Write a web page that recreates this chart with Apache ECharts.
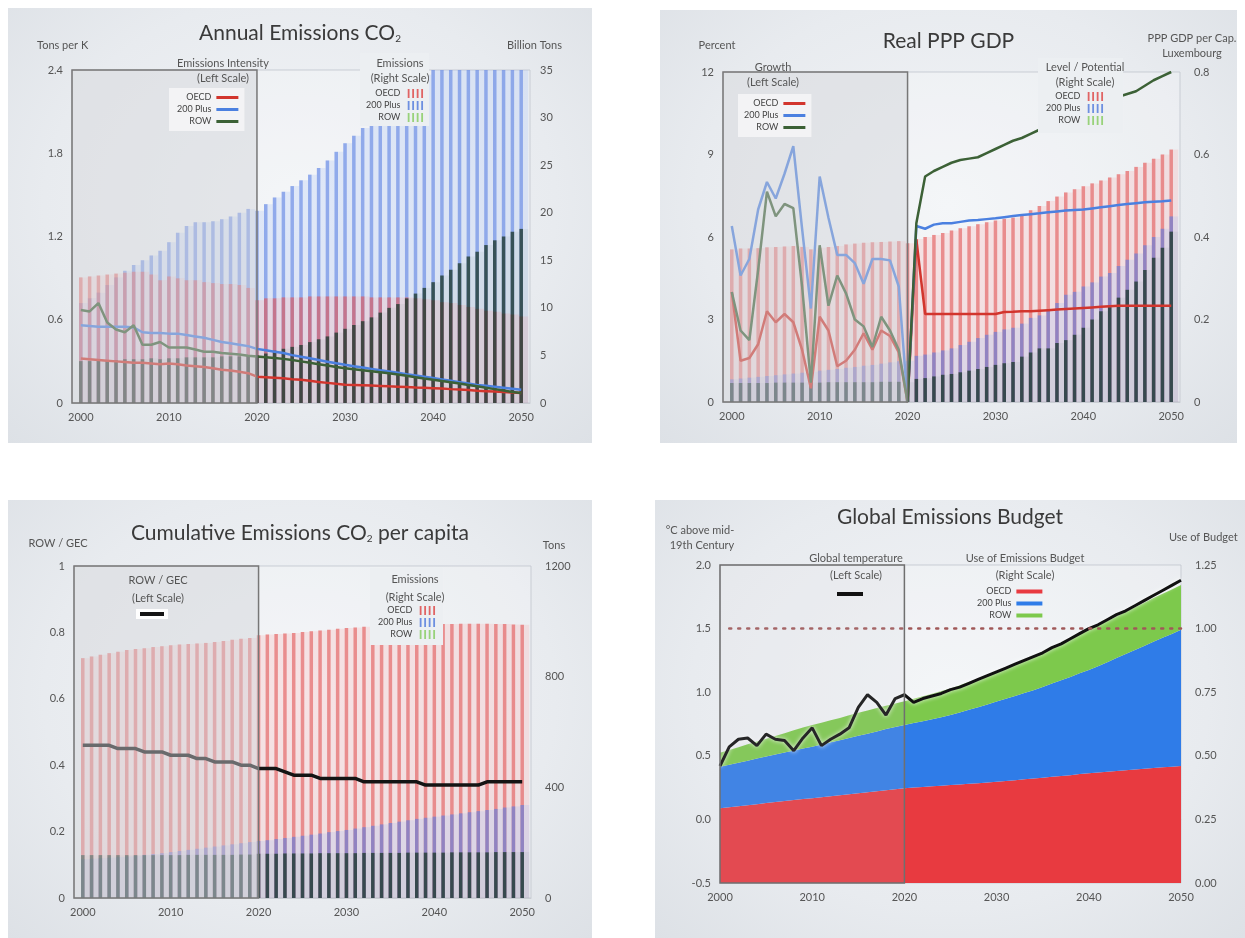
<!DOCTYPE html>
<html>
<head>
<meta charset="utf-8">
<script src="https://cdn.jsdelivr.net/npm/echarts@6/dist/echarts.min.js"></script>
<style>
  html, body { margin: 0; padding: 0; background: #ffffff; width: 1245px; height: 938px; overflow: hidden; }
  .panel { position: absolute; background: radial-gradient(ellipse at 50% 45%, #f2f4f7 0%, #e8ebef 62%, #dde1e6 100%); }
</style>
</head>
<body>
<div id="p1" class="panel" style="left:8px;top:8px;width:584px;height:435px"></div>
<div id="p2" class="panel" style="left:660px;top:10px;width:577px;height:433px"></div>
<div id="p3" class="panel" style="left:8px;top:500px;width:584px;height:438px"></div>
<div id="p4" class="panel" style="left:655px;top:500px;width:590px;height:438px"></div>
<script>
// ---------- shared categories ----------
const years = [];
for (let y = 2000; y <= 2050; y++) years.push(y);

// ---------- Annual Emissions CO2 ----------
// emissions, billion tons (right scale)
const p1OecdEm = [13.2, 13.3, 13.4, 13.5, 13.6, 13.7, 13.8, 13.8, 13.5, 12.9,
  13.3, 13.1, 12.9, 12.9, 12.7, 12.6, 12.5, 12.5, 12.4, 12.1,
  10.8, 11.0, 11.0, 11.1, 11.1, 11.1, 11.2, 11.2, 11.2, 11.2,
  11.2, 11.2, 11.2, 11.1, 11.1, 11.1, 11.1, 11.1, 11.0, 10.9,
  10.8, 10.6, 10.5, 10.3, 10.1, 9.9, 9.7, 9.6, 9.4, 9.3, 9.1];
const p1PlusEm = [10.5, 11.0, 11.6, 12.4, 13.2, 13.9, 14.5, 15.0, 15.5, 16.0,
  16.9, 17.9, 18.6, 19.0, 19.0, 19.1, 19.3, 19.6, 20.0, 20.4,
  20.2, 20.9, 21.6, 22.2, 22.8, 23.4, 24.0, 24.7, 25.5, 26.4,
  27.3, 28.1, 28.9, 29.7, 30.5, 31.3, 32.1, 32.9, 33.7, 34.5,
  35.3, 36.0, 36.7, 37.4, 38.1, 38.8, 39.5, 40.2, 40.9, 41.6, 42.3];
const p1RowEm = [4.4, 4.4, 4.5, 4.5, 4.5, 4.6, 4.6, 4.6, 4.7, 4.6,
  4.7, 4.7, 4.8, 4.8, 4.8, 4.8, 4.9, 4.9, 4.9, 5.0,
  5.0, 5.2, 5.5, 5.7, 5.9, 6.1, 6.4, 6.7, 7.0, 7.4,
  7.8, 8.2, 8.6, 9.0, 9.5, 10.0, 10.4, 11.0, 11.5, 12.1,
  12.7, 13.4, 14.0, 14.7, 15.4, 15.9, 16.6, 17.1, 17.5, 18.0, 18.3];
// emissions intensity, tons per K (left scale)
const p1OecdInt = [0.32, 0.315, 0.31, 0.305, 0.30, 0.295, 0.29, 0.29, 0.285, 0.28,
  0.285, 0.28, 0.27, 0.265, 0.26, 0.25, 0.24, 0.235, 0.225, 0.215,
  0.19, 0.186, 0.182, 0.178, 0.172, 0.167, 0.16, 0.152, 0.145, 0.138,
  0.132, 0.13, 0.128, 0.126, 0.123, 0.12, 0.118, 0.115, 0.112, 0.11,
  0.107, 0.104, 0.1, 0.097, 0.093, 0.088, 0.085, 0.082, 0.079, 0.075, 0.072];
const p1PlusInt = [0.56, 0.555, 0.55, 0.55, 0.55, 0.55, 0.545, 0.51, 0.505, 0.505,
  0.5, 0.5, 0.49, 0.48, 0.47, 0.455, 0.44, 0.43, 0.42, 0.41,
  0.39, 0.38, 0.37, 0.36, 0.345, 0.334, 0.322, 0.31, 0.298, 0.286,
  0.275, 0.265, 0.256, 0.246, 0.236, 0.227, 0.218, 0.208, 0.199, 0.19,
  0.18, 0.17, 0.16, 0.15, 0.14, 0.13, 0.124, 0.117, 0.11, 0.103, 0.095];
const p1RowInt = [0.67, 0.66, 0.72, 0.58, 0.53, 0.51, 0.56, 0.42, 0.42, 0.44,
  0.40, 0.40, 0.40, 0.385, 0.37, 0.37, 0.36, 0.355, 0.35, 0.34,
  0.335, 0.33, 0.325, 0.318, 0.31, 0.30, 0.29, 0.28, 0.27, 0.26,
  0.25, 0.243, 0.236, 0.229, 0.222, 0.215, 0.206, 0.196, 0.186, 0.176,
  0.167, 0.158, 0.149, 0.14, 0.13, 0.12, 0.11, 0.1, 0.09, 0.08, 0.072];

// ---------- Real PPP GDP ----------
// growth, percent (left scale)
const p2OecdGr = [4.0, 1.5, 1.6, 2.1, 3.3, 2.9, 3.2, 2.9, 1.9, 0.5,
  3.1, 2.6, 1.3, 1.5, 1.9, 2.5, 1.9, 2.6, 2.4, 1.8,
  0.0, 5.9, 3.2, 3.2, 3.2, 3.2, 3.2, 3.2, 3.2, 3.2,
  3.2, 3.27, 3.28, 3.3, 3.3, 3.32, 3.34, 3.36, 3.38, 3.4,
  3.42, 3.44, 3.46, 3.48, 3.5, 3.5, 3.5, 3.5, 3.5, 3.5, 3.5];
const p2PlusGr = [6.4, 4.6, 5.2, 7.0, 8.0, 7.4, 8.3, 9.3, 6.3, 3.4,
  8.2, 6.7, 5.35, 5.35, 5.05, 4.3, 5.2, 5.2, 5.15, 4.2,
  0.0, 6.4, 6.3, 6.45, 6.5, 6.5, 6.55, 6.6, 6.62, 6.65,
  6.68, 6.72, 6.76, 6.8, 6.83, 6.86, 6.9, 6.93, 6.96, 6.98,
  7.0, 7.04, 7.08, 7.12, 7.16, 7.2, 7.23, 7.26, 7.28, 7.3, 7.33];
const p2RowGr = [4.0, 2.6, 2.25, 4.8, 7.65, 6.75, 7.2, 7.05, 4.2, 0.7,
  5.7, 3.5, 4.6, 3.95, 3.0, 2.75, 2.0, 3.1, 2.6, 1.9,
  0.0, 6.5, 8.2, 8.4, 8.55, 8.7, 8.8, 8.85, 8.9, 9.05,
  9.2, 9.35, 9.5, 9.6, 9.75, 9.9, 10.05, 10.2, 10.35, 10.5,
  10.6, 10.75, 10.9, 11.0, 11.1, 11.2, 11.3, 11.5, 11.7, 11.85, 12.0];
// level / potential, share of Luxembourg per-capita GDP (right scale)
const p2OecdLv = [0.37, 0.372, 0.372, 0.373, 0.375, 0.376, 0.377, 0.378, 0.376, 0.37,
  0.374, 0.376, 0.378, 0.382, 0.384, 0.386, 0.387, 0.388, 0.389, 0.39,
  0.385, 0.395, 0.40, 0.405, 0.41, 0.416, 0.421, 0.426, 0.431, 0.436,
  0.44, 0.444, 0.447, 0.455, 0.465, 0.475, 0.487, 0.498, 0.508, 0.516,
  0.523, 0.53, 0.537, 0.544, 0.552, 0.56, 0.57, 0.58, 0.59, 0.6, 0.612];
const p2PlusLv = [0.055, 0.057, 0.059, 0.061, 0.063, 0.065, 0.067, 0.069, 0.071, 0.073,
  0.076, 0.078, 0.08, 0.083, 0.085, 0.088, 0.09, 0.093, 0.096, 0.099,
  0.10, 0.112, 0.115, 0.12, 0.125, 0.13, 0.138, 0.146, 0.155, 0.163,
  0.17, 0.176, 0.18, 0.19, 0.204, 0.21, 0.224, 0.24, 0.26, 0.267,
  0.28, 0.29, 0.304, 0.313, 0.33, 0.345, 0.36, 0.38, 0.40, 0.42, 0.45];
const p2RowLv = [0.046, 0.046, 0.046, 0.046, 0.046, 0.047, 0.047, 0.047, 0.047, 0.047,
  0.047, 0.048, 0.048, 0.048, 0.048, 0.048, 0.048, 0.049, 0.049, 0.049,
  0.048, 0.056, 0.058, 0.062, 0.066, 0.068, 0.072, 0.076, 0.08, 0.085,
  0.09, 0.094, 0.097, 0.11, 0.12, 0.13, 0.13, 0.143, 0.15, 0.163,
  0.18, 0.2, 0.22, 0.23, 0.253, 0.272, 0.292, 0.32, 0.35, 0.374, 0.413];

// ---------- Cumulative Emissions CO2 per capita ----------
// tons (right scale)
const p3OecdCum = [867, 873, 879, 885, 890, 896, 900, 903, 907, 910,
  914, 916, 918, 920, 922, 925, 929, 933, 937, 940,
  950, 952, 954, 956, 958, 961, 964, 967, 970, 973,
  976, 978, 980, 982, 984, 985, 986, 987, 988, 989,
  990, 990, 990, 991, 991, 991, 991, 990, 990, 989, 988];
const p3PlusCum = [140, 142, 144, 146, 148, 150, 153, 156, 159, 162,
  166, 170, 174, 178, 182, 186, 190, 194, 198, 202,
  206, 209, 213, 217, 221, 225, 229, 233, 238, 242,
  246, 251, 256, 261, 266, 271, 276, 281, 286, 290,
  294, 298, 302, 306, 310, 314, 318, 322, 327, 331, 336];
const p3RowCum = [155, 155, 155, 155, 155, 155, 155, 155, 155, 155,
  155, 155, 156, 156, 156, 156, 156, 156, 157, 157,
  160, 160, 160, 161, 161, 161, 161, 162, 162, 162,
  162, 162, 163, 163, 163, 163, 163, 164, 164, 164,
  164, 164, 165, 165, 165, 165, 165, 166, 166, 166, 166];
// ROW / GEC ratio (left scale)
const p3RowGec = [0.46, 0.46, 0.46, 0.46, 0.45, 0.45, 0.45, 0.44, 0.44, 0.44,
  0.43, 0.43, 0.43, 0.42, 0.42, 0.41, 0.41, 0.41, 0.40, 0.40,
  0.39, 0.39, 0.39, 0.38, 0.37, 0.37, 0.37, 0.36, 0.36, 0.36,
  0.36, 0.36, 0.35, 0.35, 0.35, 0.35, 0.35, 0.35, 0.35, 0.34,
  0.34, 0.34, 0.34, 0.34, 0.34, 0.34, 0.35, 0.35, 0.35, 0.35, 0.35];

// ---------- Global Emissions Budget ----------
// use of emissions budget (right scale, stacked)
const p4Oecd = [0.294, 0.298, 0.302, 0.306, 0.310, 0.314, 0.318, 0.322, 0.326, 0.330,
  0.333, 0.337, 0.341, 0.345, 0.349, 0.353, 0.357, 0.361, 0.365, 0.369,
  0.372, 0.375, 0.377, 0.380, 0.382, 0.385, 0.387, 0.390, 0.392, 0.395,
  0.398, 0.401, 0.404, 0.408, 0.411, 0.414, 0.418, 0.421, 0.424, 0.428,
  0.431, 0.434, 0.437, 0.440, 0.443, 0.446, 0.449, 0.452, 0.455, 0.457, 0.460];
const p4Plus = [0.163, 0.167, 0.171, 0.175, 0.179, 0.183, 0.187, 0.191, 0.195, 0.199,
  0.203, 0.207, 0.212, 0.216, 0.221, 0.226, 0.230, 0.235, 0.240, 0.244,
  0.249, 0.254, 0.259, 0.264, 0.270, 0.275, 0.283, 0.291, 0.299, 0.307,
  0.315, 0.323, 0.331, 0.339, 0.347, 0.356, 0.366, 0.376, 0.386, 0.396,
  0.406, 0.418, 0.431, 0.444, 0.457, 0.470, 0.483, 0.496, 0.509, 0.522, 0.535];
const p4Row = [0.055, 0.058, 0.061, 0.064, 0.067, 0.070, 0.073, 0.076, 0.079, 0.082,
  0.085, 0.086, 0.087, 0.088, 0.089, 0.090, 0.091, 0.092, 0.092, 0.093,
  0.093, 0.095, 0.098, 0.100, 0.103, 0.105, 0.107, 0.110, 0.112, 0.115,
  0.118, 0.122, 0.126, 0.130, 0.134, 0.138, 0.142, 0.146, 0.150, 0.154,
  0.158, 0.160, 0.162, 0.164, 0.166, 0.168, 0.170, 0.172, 0.173, 0.175, 0.176];
// global temperature, degC above mid-19th century (left scale)
const p4Temp = [0.42, 0.57, 0.63, 0.64, 0.58, 0.67, 0.63, 0.62, 0.54, 0.64,
  0.72, 0.58, 0.63, 0.67, 0.72, 0.88, 0.98, 0.92, 0.82, 0.95,
  0.98, 0.92, 0.95, 0.97, 0.99, 1.02, 1.04, 1.07, 1.10, 1.13,
  1.16, 1.19, 1.22, 1.25, 1.28, 1.31, 1.35, 1.38, 1.42, 1.46,
  1.50, 1.53, 1.57, 1.61, 1.64, 1.68, 1.72, 1.76, 1.80, 1.84, 1.88];
const p4BudgetLimit = 1.5;   // temperature level matching full use of the budget
const historyEnd = 2020;     // shaded history window ends here

// ---------- styling helpers ----------
const FONT = 'Lato, "Open Sans", "DejaVu Sans", sans-serif';
const TXT = '#555';
const PANEL_BG = 'rgb(236,239,242)';
const pairs = v => years.map((y, i) => [y, v[i]]);
const BAR_ICON = 'path://M0,0h2v10h-2zM5,0h2v10h-2zM10,0h2v10h-2zM15,0h2v10h-2z';

const COL = {
  oecdBar: 'rgba(226,88,88,0.62)', oecdTint: 'rgba(255,150,150,0.20)',
  plusBar: 'rgba(92,128,226,0.60)', plusTint: 'rgba(150,180,245,0.22)',
  rowBar: 'rgba(34,60,50,0.80)', rowTint: 'rgba(120,150,135,0.10)',
  oecdLine: '#d2352d', plusLine: '#4b80e0', rowLine: '#3c6136',
  legOecd: '#e06464', legPlus: '#6d8fe0', legRow: '#98d27a',
  oecdArea: '#e83a40', plusArea: '#2f7ce8', rowArea: '#7dc94c'
};

function yearAxis(min, max) {
  return {
    type: 'value', min, max,
    splitLine: { show: false }, axisTick: { show: false },
    axisLine: { show: true, onZero: false, lineStyle: { color: '#c9cdd3' } },
    axisLabel: {
      color: TXT, fontSize: 11, fontFamily: FONT, margin: 9,
      showMinLabel: false, showMaxLabel: false,
      formatter: v => (v % 10 === 0 ? String(v) : '')
    }
  };
}
function valAxis(min, max, interval, fmt, margin) {
  return {
    type: 'value', min, max, interval,
    splitLine: { show: false }, axisLine: { show: false }, axisTick: { show: false },
    axisLabel: { color: TXT, fontSize: 11, fontFamily: FONT, margin: margin || 9, formatter: fmt }
  };
}
function tintBars(name, vals, color) {
  return { name: name + '|t', type: 'bar', yAxisIndex: 1, data: pairs(vals),
    barWidth: '100%', barGap: '-100%', itemStyle: { color }, silent: true, z: 2 };
}
function thinBars(name, vals, color) {
  return { name: name + '|b', type: 'bar', yAxisIndex: 1, data: pairs(vals),
    barWidth: 3.5, barGap: '-100%', itemStyle: { color }, silent: true, z: 2 };
}
function lineS(name, vals, color, width, yIndex) {
  return { name: name + '|l', type: 'line', yAxisIndex: yIndex || 0, data: pairs(vals),
    symbol: 'none', lineStyle: { color, width }, itemStyle: { color }, z: 3, silent: true };
}
function historyBox(from, fill) {
  return { silent: true, z: 5, label: { show: false },
    itemStyle: { color: fill, borderColor: '#777', borderWidth: 1.5 },
    data: [[{ xAxis: from }, { xAxis: historyEnd }]] };
}
function legendBlock(opts) {
  return Object.assign({
    orient: 'vertical', align: 'right', selectedMode: false, z: 6,
    formatter: n => n.split('|')[0],
    textStyle: { fontSize: 9, color: '#444', fontFamily: FONT, width: 40 },
    itemGap: 3
  }, opts);
}
function barLegend(left, top, padding, bg) {
  return legendBlock({
    left, top, padding, backgroundColor: bg, icon: BAR_ICON, itemWidth: 20, itemHeight: 9,
    data: [
      { name: 'OECD|b', itemStyle: { color: COL.legOecd } },
      { name: '200 Plus|b', itemStyle: { color: COL.legPlus } },
      { name: 'ROW|b', itemStyle: { color: COL.legRow } }
    ]
  });
}
function lineLegend(left, top, padding, bg, itemGap) {
  return legendBlock({
    left, top, padding, backgroundColor: bg, icon: 'rect', itemWidth: 22, itemHeight: 3, itemGap: itemGap || 4,
    data: [
      { name: 'OECD|l', itemStyle: { color: COL.oecdLine } },
      { name: '200 Plus|l', itemStyle: { color: COL.plusLine } },
      { name: 'ROW|l', itemStyle: { color: COL.rowLine } }
    ]
  });
}
const txt = (text, x, y, size, align, color) => ({
  type: 'text', x, y, z: 10, silent: true,
  style: { text, fontSize: size || 11, fontFamily: FONT, fill: color || TXT,
    align: align || 'center', verticalAlign: 'middle' }
});
function titleOf(parts, top) {
  return {
    left: 'center', top,
    text: parts,
    textStyle: {
      fontWeight: 'normal',
      rich: {
        m: { fontSize: 21, fontFamily: FONT, fontWeight: 'normal', color: '#3a3a3a' },
        s: { fontSize: 10, fontFamily: FONT, fontWeight: 'normal', color: '#3a3a3a', verticalAlign: 'bottom', padding: [9, 0, 0, 0] }
      }
    }
  };
}
const gridStyle = { show: true, backgroundColor: 'rgba(255,255,255,0.18)', borderColor: 'rgba(196,201,208,0.9)', borderWidth: 1 };

// ---------- Annual Emissions CO2 ----------
const c1 = echarts.init(document.getElementById('p1'));
const s1Int = lineS('OECD', p1OecdInt, COL.oecdLine, 2.5);
s1Int.markArea = historyBox(1999, 'rgba(208,210,214,0.45)');
c1.setOption({
  animation: false,
  title: titleOf('{m|Annual Emissions CO}{s|2}', 10),
  grid: Object.assign({ left: 64, top: 62, width: 458, height: 333 }, gridStyle),
  xAxis: yearAxis(1999, 2051),
  yAxis: [valAxis(0, 2.4, 0.6), valAxis(0, 35, 5, null, 10)],
  legend: [
    lineLegend(161, 80, [5, 6, 5, 8], 'rgba(244,244,245,0.92)', 3),
    barLegend(352, 45, [36, 6, 4, 6], PANEL_BG)
  ],
  graphic: [
    txt('Tons per K', 29, 37, 11, 'left'),
    txt('Billion Tons', 554, 37, 11, 'right'),
    txt('Emissions Intensity', 215, 55, 11),
    txt('(Left Scale)', 215, 70, 11),
    txt('Emissions', 392, 55, 11),
    txt('(Right Scale)', 392, 70, 11)
  ],
  series: [
    tintBars('200 Plus', p1PlusEm, COL.plusTint),
    tintBars('OECD', p1OecdEm, COL.oecdTint),
    tintBars('ROW', p1RowEm, COL.rowTint),
    thinBars('200 Plus', p1PlusEm, COL.plusBar),
    thinBars('OECD', p1OecdEm, COL.oecdBar),
    thinBars('ROW', p1RowEm, COL.rowBar),
    s1Int,
    lineS('200 Plus', p1PlusInt, COL.plusLine, 2.5),
    lineS('ROW', p1RowInt, COL.rowLine, 2.5)
  ]
});

// ---------- Real PPP GDP ----------
const c2 = echarts.init(document.getElementById('p2'));
const s2Gr = lineS('OECD', p2OecdGr, COL.oecdLine, 2.5);
s2Gr.markArea = historyBox(1999, 'rgba(208,210,214,0.45)');
c2.setOption({
  animation: false,
  title: titleOf('{m|Real PPP GDP}', 16),
  grid: Object.assign({ left: 63, top: 62, width: 457, height: 330 }, gridStyle),
  xAxis: yearAxis(1999, 2051),
  yAxis: [valAxis(0, 12, 3), valAxis(0, 0.8, 0.2, null, 14)],
  legend: [
    lineLegend(78, 84, [5, 6, 5, 6], 'rgba(244,244,245,0.92)', 3),
    barLegend(378, 48, [34, 20, 8, 8], PANEL_BG)
  ],
  graphic: [
    txt('Percent', 57, 35, 11),
    txt('PPP GDP per Cap.', 532, 28, 11),
    txt('Luxembourg', 532, 43, 11),
    txt('Growth', 113, 57, 11),
    txt('(Left Scale)', 113, 72, 11),
    txt('Level / Potential', 425, 57, 11),
    txt('(Right Scale)', 425, 72, 11)
  ],
  series: [
    tintBars('OECD', p2OecdLv, COL.oecdTint),
    tintBars('200 Plus', p2PlusLv, COL.plusTint),
    tintBars('ROW', p2RowLv, COL.rowTint),
    thinBars('OECD', p2OecdLv, COL.oecdBar),
    thinBars('200 Plus', p2PlusLv, COL.plusBar),
    thinBars('ROW', p2RowLv, COL.rowBar),
    s2Gr,
    lineS('200 Plus', p2PlusGr, COL.plusLine, 2.5),
    lineS('ROW', p2RowGr, COL.rowLine, 2.5)
  ]
});

// ---------- Cumulative Emissions CO2 per capita ----------
const c3 = echarts.init(document.getElementById('p3'));
const s3Gec = lineS('ROW / GEC', p3RowGec, '#141414', 3.5);
s3Gec.markArea = historyBox(1999, 'rgba(208,210,214,0.45)');
c3.setOption({
  animation: false,
  title: titleOf('{m|Cumulative Emissions CO}{s|2}{m| per capita}', 18),
  grid: Object.assign({ left: 66, top: 66, width: 457, height: 332 }, gridStyle),
  xAxis: yearAxis(1999, 2051),
  yAxis: [valAxis(0, 1, 0.2), valAxis(0, 1200, 400, v => String(v), 14)],
  legend: [
    legendBlock({ left: 128, top: 109, padding: [3, 4, 3, 4], backgroundColor: 'rgba(255,255,255,0.95)',
      icon: 'rect', itemWidth: 24, itemHeight: 4, formatter: () => '', textStyle: { width: 0, fontSize: 1 },
      data: [{ name: 'ROW / GEC|l', itemStyle: { color: '#141414' } }] }),
    barLegend(362, 68, [38, 8, 6, 8], PANEL_BG)
  ],
  graphic: [
    txt('ROW / GEC', 50, 43, 11),
    txt('Tons', 546, 45, 11),
    txt('ROW / GEC', 150, 80, 11),
    txt('(Left Scale)', 150, 98, 11),
    txt('Emissions', 407, 79, 11),
    txt('(Right Scale)', 407, 97, 11)
  ],
  series: [
    tintBars('OECD', p3OecdCum, COL.oecdTint),
    tintBars('200 Plus', p3PlusCum, COL.plusTint),
    tintBars('ROW', p3RowCum, COL.rowTint),
    thinBars('OECD', p3OecdCum, COL.oecdBar),
    thinBars('200 Plus', p3PlusCum, COL.plusBar),
    thinBars('ROW', p3RowCum, COL.rowBar),
    s3Gec
  ]
});

// ---------- Global Emissions Budget ----------
const c4 = echarts.init(document.getElementById('p4'));
const yearCats = years.map(String);
function areaS(name, vals, color) {
  return { name: name + '|a', type: 'line', yAxisIndex: 1, stack: 'budget', data: vals,
    symbol: 'none', lineStyle: { width: 0 }, areaStyle: { color, opacity: 1 }, itemStyle: { color },
    z: 2, silent: true };
}
const s4Temp = {
  name: 'Global temperature|l', type: 'line', yAxisIndex: 0, data: p4Temp, symbol: 'none',
  lineStyle: { color: '#111', width: 3, shadowColor: 'rgba(255,255,255,0.9)', shadowBlur: 4 },
  itemStyle: { color: '#111' }, z: 3, silent: true,
  markArea: {
    silent: true, z: 5, label: { show: false },
    itemStyle: { color: 'rgba(200,201,206,0.12)', borderColor: '#6f6f6f', borderWidth: 1.5 },
    data: [[{ xAxis: String(years[0]) }, { xAxis: String(historyEnd) }]]
  },
  markLine: {
    silent: true, symbol: 'none', z: 4, label: { show: false },
    lineStyle: { type: [2, 7], color: '#a05858', width: 2.5, cap: 'round' },
    data: [[{ coord: ['2001', p4BudgetLimit] }, { coord: ['2050', p4BudgetLimit] }]]
  }
};
c4.setOption({
  animation: false,
  title: titleOf('{m|Global Emissions Budget}', 2),
  grid: Object.assign({ left: 65, top: 65, width: 461, height: 318 }, gridStyle),
  xAxis: {
    type: 'category', data: yearCats, boundaryGap: false,
    splitLine: { show: false }, axisTick: { show: false },
    axisLine: { show: true, lineStyle: { color: '#c9cdd3' } },
    axisLabel: { color: TXT, fontSize: 11, fontFamily: FONT, margin: 9, interval: 9 }
  },
  yAxis: [valAxis(-0.5, 2.0, 0.5, v => v.toFixed(1)), valAxis(0, 1.25, 0.25, v => v.toFixed(2), 14)],
  legend: [
    legendBlock({ left: 180, top: 90, padding: [2, 2, 2, 2], icon: 'rect', itemWidth: 26, itemHeight: 4,
      formatter: () => '', textStyle: { width: 0, fontSize: 1 },
      data: [{ name: 'Global temperature|l', itemStyle: { color: '#111' } }] }),
    legendBlock({ left: 322, top: 87, padding: [0, 0, 0, 0], icon: 'rect', itemWidth: 26, itemHeight: 4,
      itemGap: 3, textStyle: { fontSize: 9, color: '#444', fontFamily: FONT, width: 50 },
      data: [
        { name: 'OECD|a', itemStyle: { color: COL.oecdArea } },
        { name: '200 Plus|a', itemStyle: { color: COL.plusArea } },
        { name: 'ROW|a', itemStyle: { color: COL.rowArea } }
      ] })
  ],
  graphic: [
    txt('°C above mid-', 45, 30, 11),
    txt('19th Century', 47, 45, 11),
    txt('Use of Budget', 514, 37, 11, 'left'),
    txt('Global temperature', 201, 58, 11),
    txt('(Left Scale)', 201, 75, 11),
    txt('Use of Emissions Budget', 370, 58, 11),
    txt('(Right Scale)', 370, 75, 11)
  ],
  series: [
    areaS('OECD', p4Oecd, COL.oecdArea),
    areaS('200 Plus', p4Plus, COL.plusArea),
    areaS('ROW', p4Row, COL.rowArea),
    s4Temp
  ]
});
</script>
</body>
</html>
